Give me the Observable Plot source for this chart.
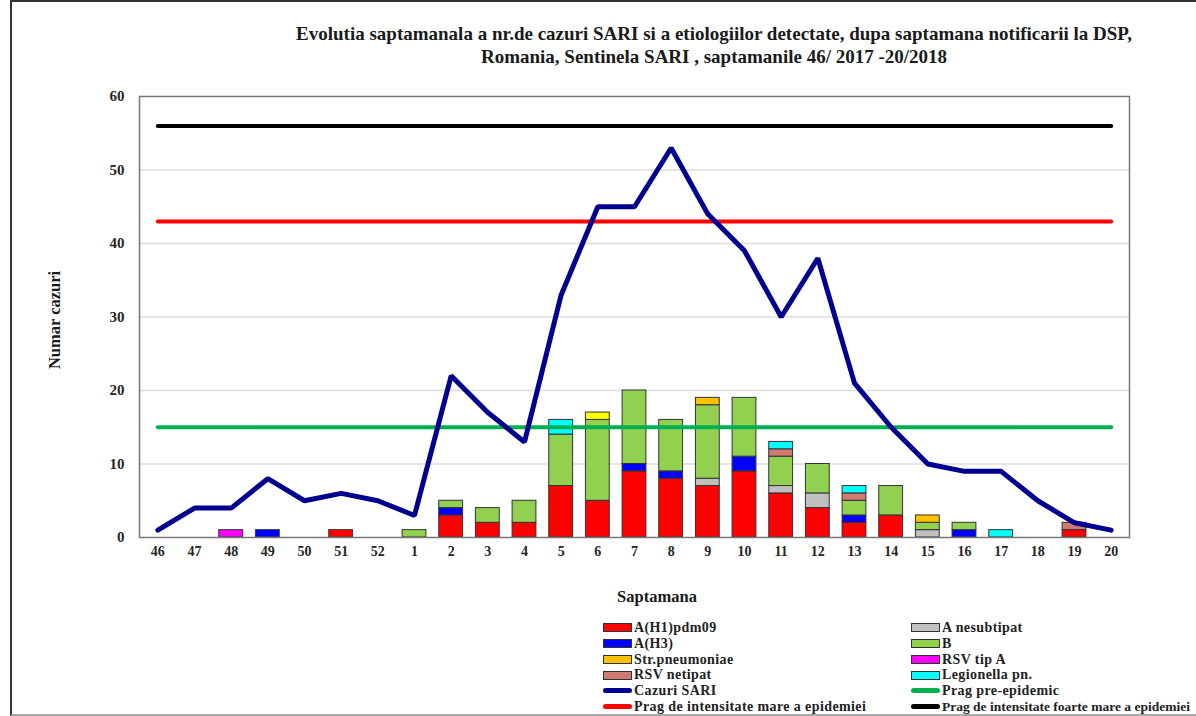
<!DOCTYPE html>
<html><head><meta charset="utf-8">
<script src="https://cdn.jsdelivr.net/npm/d3@7"></script>
<script src="https://cdn.jsdelivr.net/npm/@observablehq/plot@0.6"></script>
<style>
html,body{margin:0;padding:0;background:#fff;}
body{width:1196px;height:716px;overflow:hidden;position:relative;font-family:"Liberation Serif","Times New Roman",serif;}
#border{position:absolute;left:10px;top:0;width:1300px;height:712px;border-left:2px solid #333;border-top:2px solid #333;border-bottom:2px solid #aaa;}
#chart{position:absolute;left:0;top:0;}
#title{position:absolute;left:214px;width:1000px;top:22px;text-align:center;font-weight:bold;font-size:19px;line-height:23px;color:#1a1a1a;}
#ylab{position:absolute;left:55px;top:320px;transform:translate(-50%,-50%) rotate(-90deg);font-weight:bold;font-size:16.5px;color:#1a1a1a;white-space:nowrap;}
#xlab{position:absolute;left:657px;top:597px;transform:translate(-50%,-50%);font-weight:bold;font-size:16.5px;color:#1a1a1a;white-space:nowrap;}
.leg{position:absolute;font-weight:bold;font-size:14px;letter-spacing:0.4px;color:#222;white-space:nowrap;height:16px;line-height:16px;}
.leg.tight{font-size:13.5px;letter-spacing:0;}
.sw{display:inline-block;width:27px;height:7px;border:1px solid #333;vertical-align:middle;margin-right:2px;position:relative;top:-1px;}
.ln{display:inline-block;width:29px;height:5px;border-radius:3px;vertical-align:middle;margin-right:2px;position:relative;top:-1px;}
</style></head>
<body>
<div id="border"></div>
<div id="chart"></div>
<div id="title">Evolutia saptamanala a nr.de cazuri SARI si a etiologiilor detectate, dupa saptamana notificarii la DSP,<br>Romania, Sentinela SARI , saptamanile 46/ 2017 -20/2018</div>
<div id="ylab">Numar cazuri</div>
<div id="xlab">Saptamana</div>
<div id="legend"></div>
<script>
const weeks = ["46","47","48","49","50","51","52","1","2","3","4","5","6","7","8","9","10","11","12","13","14","15","16","17","18","19","20"];
const cazuriSARI = [1,4,4,8,5,6,5,3,22,17,13,33,45,45,53,44,39,30,38,21,15,10,9,9,5,2,1];
const aH1pdm09   = [0,0,0,0,0,1,0,0,3,2,2,7,5,9,8,7,9,6,4,2,3,0,0,0,0,1,0];
const aH3        = [0,0,0,1,0,0,0,0,1,0,0,0,0,1,1,0,2,0,0,1,0,0,1,0,0,0,0];
const aNesubtipat= [0,0,0,0,0,0,0,0,0,0,0,0,0,0,0,1,0,1,2,0,0,1,0,0,0,0,0];
const gripaB     = [0,0,0,0,0,0,0,1,1,2,3,7,11,10,7,10,8,4,4,2,4,1,1,0,0,0,0];
const strPneum   = [0,0,0,0,0,0,0,0,0,0,0,0,0,0,0,1,0,0,0,0,0,1,0,0,0,0,0];
const rsvTipA    = [0,0,1,0,0,0,0,0,0,0,0,0,0,0,0,0,0,0,0,0,0,0,0,0,0,0,0];
const rsvNetipat = [0,0,0,0,0,0,0,0,0,0,0,0,0,0,0,0,0,1,0,1,0,0,0,0,0,1,0];
const legionella = [0,0,0,0,0,0,0,0,0,0,0,2,0,0,0,0,0,1,0,1,0,0,0,1,0,0,0];
const alte       = [0,0,0,0,0,0,0,0,0,0,0,0,1,0,0,0,0,0,0,0,0,0,0,0,0,0,0];
const pragPreEpidemic = 15;
const pragMare = 43;
const pragFoarteMare = 56;
const seriesNames = ["A(H1)pdm09","A(H3)","A nesubtipat","B","Str.pneumoniae","RSV tip A","RSV netipat","Legionella pn.","Alte"];
const seriesValues = [aH1pdm09,aH3,aNesubtipat,gripaB,strPneum,rsvTipA,rsvNetipat,legionella,alte];
const seriesColors = ["#ff0000","#0000ff","#c0c0c0","#92d050","#ffc000","#ff00ff","#d07a74","#00ffff","#ffff00"];

const rows = [];
seriesNames.forEach((s, k) => weeks.forEach((w, i) => { if (seriesValues[k][i] > 0) rows.push({week: w, series: s, value: seriesValues[k][i]}); }));

const chart = Plot.plot({
  width: 1196, height: 716,
  marginLeft: 139, marginRight: 67, marginTop: 96, marginBottom: 179,
  style: {fontFamily: "'Liberation Serif', 'Times New Roman', serif", fontWeight: "bold", fontSize: "14px", color: "#262626", background: "transparent"},
  x: {type: "band", domain: weeks, paddingInner: 0.35, paddingOuter: 0.175, round: false, label: null},
  y: {domain: [0, 60], label: null},
  color: {domain: seriesNames, range: seriesColors},
  marks: [
    Plot.gridY([10, 20, 30, 40, 50], {stroke: "#dddddd", strokeOpacity: 1, strokeWidth: 1.5}),
    Plot.barY(rows, {x: "week", y: "value", fill: "series", stroke: "#333", strokeWidth: 1, order: seriesNames}),
    Plot.line(weeks, {x: d => d, y: () => pragPreEpidemic, stroke: "#00b050", strokeWidth: 4, strokeLinecap: "round"}),
    Plot.line(weeks, {x: d => d, y: () => pragMare, stroke: "#ff0000", strokeWidth: 4, strokeLinecap: "round"}),
    Plot.line(weeks, {x: d => d, y: () => pragFoarteMare, stroke: "#000000", strokeWidth: 4, strokeLinecap: "round"}),
    Plot.line(weeks, {x: d => d, y: (d, i) => cazuriSARI[i], stroke: "#000090", strokeWidth: 5, strokeLinecap: "round", strokeLinejoin: "miter"}),
    Plot.frame({stroke: "#777", strokeWidth: 1.5}),
    Plot.axisY({ticks: [0, 10, 20, 30, 40, 50, 60], tickSize: 0, tickPadding: 15, fontSize: 15, label: null}),
    Plot.axisX({tickSize: 0, tickPadding: 9, fontSize: 14, label: null})
  ]
});
document.getElementById("chart").appendChild(chart);

const legendItems = [
  {label: "A(H1)pdm09", color: "#ff0000", type: "sw", col: 0, row: 0},
  {label: "A nesubtipat", color: "#c0c0c0", type: "sw", col: 1, row: 0},
  {label: "A(H3)", color: "#0000ff", type: "sw", col: 0, row: 1},
  {label: "B", color: "#92d050", type: "sw", col: 1, row: 1},
  {label: "Str.pneumoniae", color: "#ffc000", type: "sw", col: 0, row: 2},
  {label: "RSV tip A", color: "#ff00ff", type: "sw", col: 1, row: 2},
  {label: "RSV netipat", color: "#d07a74", type: "sw", col: 0, row: 3},
  {label: "Legionella pn.", color: "#00ffff", type: "sw", col: 1, row: 3},
  {label: "Cazuri SARI", color: "#000090", type: "ln", col: 0, row: 4},
  {label: "Prag pre-epidemic", color: "#00b050", type: "ln", col: 1, row: 4},
  {label: "Prag de intensitate mare a epidemiei", color: "#ff0000", type: "ln", col: 0, row: 5},
  {label: "Prag de intensitate foarte mare a epidemiei", color: "#000000", type: "ln", col: 1, row: 5, tight: true}
];
const leg = document.getElementById("legend");
legendItems.forEach(it => {
  const d = document.createElement("div");
  d.className = "leg" + (it.tight ? " tight" : "");
  d.style.left = (it.col === 0 ? 603 : 911) + "px";
  d.style.top = (620 + it.row * 15.8) + "px";
  const s = document.createElement("span");
  s.className = it.type;
  s.style.background = it.color;
  d.appendChild(s);
  d.appendChild(document.createTextNode(it.label));
  leg.appendChild(d);
});
</script>
</body></html>
